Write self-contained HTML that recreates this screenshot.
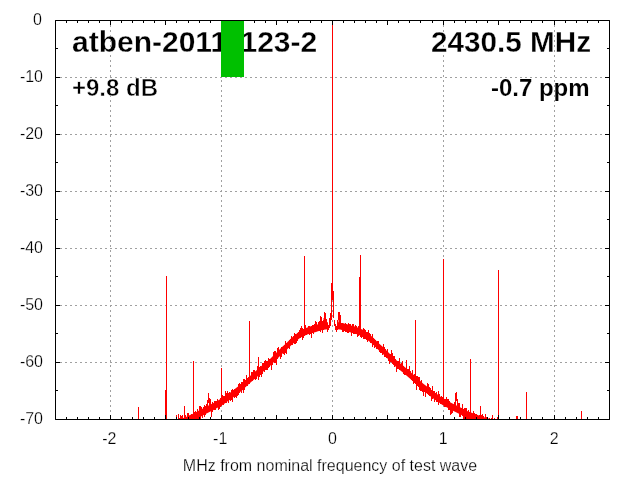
<!DOCTYPE html>
<html><head><meta charset="utf-8">
<style>
html,body{margin:0;padding:0;background:#fff;}
body{width:640px;height:480px;overflow:hidden;position:relative;}
svg{position:absolute;left:0;top:0;will-change:transform;}
text{font-family:"Liberation Sans",sans-serif;}
.lb{stroke:#fff;stroke-width:0.25px;}
</style></head><body>
<svg width="640" height="480" viewBox="0 0 640 480">
<defs><clipPath id="c"><rect x="55" y="20" width="555" height="399.5"/></clipPath></defs>
<rect x="0" y="0" width="640" height="480" fill="#fff"/>
<path d="M55,77.5H609M55,134.5H609M55,191.5H609M55,248.5H609M55,305.5H609M55,362.5H609M110.5,20V419M221.5,20V419M332.5,20V419M443.5,20V419M554.5,20V419" stroke="#a0a0a0" stroke-width="1" stroke-dasharray="2,3" fill="none"/>
<g clip-path="url(#c)"><path d="M170.0,423.5 172.0,422.7 174.0,421.9 176.0,421.1 178.0,420.3 180.0,419.5 182.0,418.6 184.0,417.8 186.0,417.0 188.0,416.1 190.0,415.1 192.0,414.2 194.0,413.2 196.0,412.2 198.0,411.1 200.0,410.0 202.0,408.9 204.0,407.8 206.0,406.8 208.0,405.8 210.0,404.8 212.0,403.8 214.0,402.8 216.0,401.6 218.0,400.5 220.0,399.3 222.0,398.2 224.0,397.0 226.0,395.6 228.0,394.1 230.0,392.7 232.0,391.2 234.0,389.7 236.0,388.1 238.0,386.6 240.0,385.0 242.0,383.4 244.0,381.6 246.0,379.7 248.0,377.8 250.0,375.9 252.0,374.2 254.0,372.5 256.0,370.7 258.0,369.0 260.0,367.3 262.0,365.6 264.0,364.0 266.0,362.3 268.0,360.7 270.0,359.0 272.0,357.0 274.0,355.0 276.0,353.0 278.0,351.0 280.0,349.0 282.0,347.1 284.0,345.2 286.0,343.4 288.0,341.5 290.0,339.5 292.0,337.5 294.0,335.8 296.0,334.2 298.0,332.5 300.0,330.9 302.0,329.8 304.0,329.0 306.0,328.1 308.0,327.2 310.0,326.6 312.0,326.0 314.0,325.4 316.0,324.9 318.0,324.3 319.0,324.0 320.0,323.7 321.0,323.4 322.0,323.1 323.0,322.9 324.0,322.8 325.0,322.6 326.0,322.5 327.0,322.3 328.0,322.2 328.0,329.2 327.0,329.3 326.0,329.5 325.0,329.6 324.0,329.8 323.0,329.9 322.0,330.1 321.0,330.4 320.0,330.7 319.0,331.0 318.0,331.3 316.0,331.9 314.0,332.4 312.0,333.0 310.0,333.6 308.0,334.2 306.0,335.1 304.0,336.0 302.0,336.8 300.0,337.9 298.0,339.5 296.0,341.2 294.0,342.8 292.0,344.5 290.0,346.5 288.0,348.5 286.0,350.4 284.0,352.2 282.0,354.1 280.0,356.0 278.0,358.0 276.0,360.0 274.0,362.0 272.0,364.0 270.0,366.0 268.0,367.7 266.0,369.3 264.0,371.0 262.0,372.6 260.0,374.3 258.0,376.0 256.0,377.7 254.0,379.5 252.0,381.2 250.0,382.9 248.0,384.8 246.0,386.7 244.0,388.6 242.0,390.4 240.0,392.0 238.0,393.6 236.0,395.1 234.0,396.7 232.0,398.2 230.0,399.7 228.0,401.1 226.0,402.6 224.0,404.0 222.0,405.2 220.0,406.3 218.0,407.5 216.0,408.6 214.0,409.8 212.0,410.8 210.0,411.8 208.0,412.8 206.0,413.8 204.0,414.8 202.0,415.9 200.0,417.0 198.0,418.1 196.0,419.2 194.0,420.2 192.0,421.2 190.0,422.1 188.0,423.1 186.0,424.0 184.0,424.8 182.0,425.6 180.0,426.5 178.0,427.3 176.0,428.1 174.0,428.9 172.0,429.7 170.0,430.5ZM337.0,322.2 338.0,322.3 339.0,322.5 340.0,322.6 341.0,322.8 342.0,322.9 343.0,323.1 344.0,323.4 345.0,323.7 346.0,324.0 347.0,324.3 348.0,324.6 349.0,324.9 351.0,325.4 353.0,326.0 355.0,326.6 357.0,327.2 359.0,328.1 361.0,329.0 363.0,329.8 365.0,330.9 367.0,332.5 369.0,334.2 371.0,335.8 373.0,337.5 375.0,339.5 377.0,341.5 379.0,343.4 381.0,345.2 383.0,347.1 385.0,349.0 387.0,351.0 389.0,353.0 391.0,355.0 393.0,357.0 395.0,359.0 397.0,360.7 399.0,362.3 401.0,364.0 403.0,365.6 405.0,367.3 407.0,369.0 409.0,370.7 411.0,372.5 413.0,374.2 415.0,375.9 417.0,377.8 419.0,379.7 421.0,381.6 423.0,383.4 425.0,385.0 427.0,386.6 429.0,388.1 431.0,389.7 433.0,391.2 435.0,392.7 437.0,394.1 439.0,395.6 441.0,397.0 443.0,398.2 445.0,399.3 447.0,400.5 449.0,401.6 451.0,402.8 453.0,403.8 455.0,404.8 457.0,405.8 459.0,406.8 461.0,407.8 463.0,408.8 465.0,409.9 467.0,411.0 469.0,411.8 471.0,412.6 473.0,413.3 475.0,414.1 477.0,414.8 479.0,415.4 481.0,416.0 483.0,416.7 485.0,417.4 487.0,418.1 489.0,418.8 491.0,419.6 493.0,420.5 495.0,421.3 495.0,428.3 493.0,427.5 491.0,426.6 489.0,425.8 487.0,425.1 485.0,424.4 483.0,423.7 481.0,423.0 479.0,422.4 477.0,421.8 475.0,421.1 473.0,420.3 471.0,419.6 469.0,418.8 467.0,418.0 465.0,416.9 463.0,415.8 461.0,414.8 459.0,413.8 457.0,412.8 455.0,411.8 453.0,410.8 451.0,409.8 449.0,408.6 447.0,407.5 445.0,406.3 443.0,405.2 441.0,404.0 439.0,402.6 437.0,401.1 435.0,399.7 433.0,398.2 431.0,396.7 429.0,395.1 427.0,393.6 425.0,392.0 423.0,390.4 421.0,388.6 419.0,386.7 417.0,384.8 415.0,382.9 413.0,381.2 411.0,379.5 409.0,377.7 407.0,376.0 405.0,374.3 403.0,372.6 401.0,371.0 399.0,369.3 397.0,367.7 395.0,366.0 393.0,364.0 391.0,362.0 389.0,360.0 387.0,358.0 385.0,356.0 383.0,354.1 381.0,352.2 379.0,350.4 377.0,348.5 375.0,346.5 373.0,344.5 371.0,342.8 369.0,341.2 367.0,339.5 365.0,337.9 363.0,336.8 361.0,336.0 359.0,335.1 357.0,334.2 355.0,333.6 353.0,333.0 351.0,332.4 349.0,331.9 348.0,331.6 347.0,331.3 346.0,331.0 345.0,330.7 344.0,330.4 343.0,330.1 342.0,329.9 341.0,329.8 340.0,329.6 339.0,329.5 338.0,329.3 337.0,329.2ZM323.5,318H326V329H323.5ZM338.5,318H341V329H338.5Z" fill="#ff0000" stroke="none"/>
<path d="M55.00,446.1 55.12,448.4 55.25,446.1 55.38,445.9 55.50,444.0 55.62,446.1 55.75,450.1 55.88,448.0 56.00,449.8 56.12,447.4 56.25,447.9 56.38,447.2 56.50,441.6 56.62,449.2 56.75,448.1 56.88,448.1 57.00,441.5 57.12,441.3 57.25,443.9 57.38,445.1 57.50,447.4 57.62,446.3 57.75,448.0 57.88,444.5 58.00,447.4 58.12,447.6 58.25,444.4 58.38,451.5 58.50,448.0 58.62,449.9 58.75,444.5 58.88,444.1 59.00,445.3 59.12,446.0 59.25,448.2 59.38,447.0 59.50,444.9 59.62,443.3 59.75,444.6 59.88,449.8 60.00,443.7 60.12,446.9 60.25,447.4 60.38,441.6 60.50,446.2 60.62,450.0 60.75,440.0 60.88,445.1 61.00,445.7 61.12,443.5 61.25,447.5 61.38,445.8 61.50,441.5 61.62,448.4 61.75,447.9 61.88,448.7 62.00,450.2 62.12,446.9 62.25,446.2 62.38,441.9 62.50,447.6 62.62,443.9 62.75,444.4 62.88,442.0 63.00,442.8 63.12,444.1 63.25,449.6 63.38,439.6 63.50,441.3 63.62,446.4 63.75,450.0 63.88,447.3 64.00,439.9 64.12,438.0 64.25,446.6 64.38,443.3 64.50,442.2 64.62,448.4 64.75,448.8 64.88,445.9 65.00,446.2 65.12,446.7 65.25,450.2 65.38,447.3 65.50,446.9 65.62,447.0 65.75,440.6 65.88,449.2 66.00,448.2 66.12,446.9 66.25,439.4 66.38,443.4 66.50,447.8 66.62,439.8 66.75,444.7 66.88,448.2 67.00,441.2 67.12,450.0 67.25,446.8 67.38,444.7 67.50,446.1 67.62,447.0 67.75,445.4 67.88,448.5 68.00,443.0 68.12,443.8 68.25,448.1 68.38,445.1 68.50,442.3 68.62,447.8 68.75,449.3 68.88,443.6 69.00,440.8 69.12,444.5 69.25,444.4 69.38,443.9 69.50,449.0 69.62,441.7 69.75,448.6 69.88,441.0 70.00,442.4 70.12,446.6 70.25,448.1 70.38,447.3 70.50,445.7 70.62,445.1 70.75,445.1 70.88,446.4 71.00,444.1 71.12,445.4 71.25,446.3 71.38,444.6 71.50,446.8 71.62,446.2 71.75,450.5 71.88,445.5 72.00,443.2 72.12,443.3 72.25,444.4 72.38,447.2 72.50,443.4 72.62,445.5 72.75,449.9 72.88,436.7 73.00,441.0 73.12,445.0 73.25,445.5 73.38,445.0 73.50,443.0 73.62,446.2 73.75,445.1 73.88,442.6 74.00,451.5 74.12,445.2 74.25,442.5 74.38,443.8 74.50,443.4 74.62,443.9 74.75,435.9 74.88,442.6 75.00,447.1 75.12,440.5 75.25,443.8 75.38,446.9 75.50,446.5 75.62,448.4 75.75,438.8 75.88,442.9 76.00,442.9 76.12,445.8 76.25,447.2 76.38,435.8 76.50,447.1 76.62,439.5 76.75,445.9 76.88,439.3 77.00,444.3 77.12,447.3 77.25,443.3 77.38,444.3 77.50,446.1 77.62,444.1 77.75,443.4 77.88,448.2 78.00,446.8 78.12,442.7 78.25,451.8 78.38,440.1 78.50,446.3 78.62,442.7 78.75,443.9 78.88,445.6 79.00,444.2 79.12,445.4 79.25,438.9 79.38,438.9 79.50,445.3 79.62,440.5 79.75,440.3 79.88,439.0 80.00,447.1 80.12,445.6 80.25,447.7 80.38,440.5 80.50,443.3 80.62,439.8 80.75,445.5 80.88,448.0 81.00,440.5 81.12,447.9 81.25,446.1 81.38,442.6 81.50,437.2 81.62,447.3 81.75,442.8 81.88,441.3 82.00,444.3 82.12,444.3 82.25,447.5 82.38,440.0 82.50,446.4 82.62,447.4 82.75,447.3 82.88,442.4 83.00,440.7 83.12,446.0 83.25,443.2 83.38,443.3 83.50,447.1 83.62,442.1 83.75,435.9 83.88,441.6 84.00,437.2 84.12,445.2 84.25,443.7 84.38,440.9 84.50,442.7 84.62,445.2 84.75,442.9 84.88,446.6 85.00,442.5 85.12,445.8 85.25,447.1 85.38,447.4 85.50,440.6 85.62,445.2 85.75,436.9 85.88,439.3 86.00,436.6 86.12,445.7 86.25,438.8 86.38,442.4 86.50,441.9 86.62,442.3 86.75,440.6 86.88,443.1 87.00,447.7 87.12,442.5 87.25,443.9 87.38,445.3 87.50,441.7 87.62,438.5 87.75,440.6 87.88,445.5 88.00,437.3 88.12,440.4 88.25,445.2 88.38,444.6 88.50,442.2 88.62,444.6 88.75,442.6 88.88,438.6 89.00,437.4 89.12,440.2 89.25,444.8 89.38,440.3 89.50,439.3 89.62,439.7 89.75,437.4 89.88,441.6 90.00,438.4 90.12,443.0 90.25,434.8 90.38,442.9 90.50,440.0 90.62,436.0 90.75,444.0 90.88,441.0 91.00,435.1 91.12,439.2 91.25,442.6 91.38,440.4 91.50,444.1 91.62,444.0 91.75,443.7 91.88,442.7 92.00,445.7 92.12,443.6 92.25,443.0 92.38,435.4 92.50,444.3 92.62,445.5 92.75,440.7 92.88,440.1 93.00,447.4 93.12,436.2 93.25,442.9 93.38,448.7 93.50,438.7 93.62,443.5 93.75,447.1 93.88,441.0 94.00,443.1 94.12,444.1 94.25,438.6 94.38,441.1 94.50,442.2 94.62,443.8 94.75,441.2 94.88,440.7 95.00,438.2 95.12,440.2 95.25,443.9 95.38,441.5 95.50,438.6 95.62,438.6 95.75,449.1 95.88,444.5 96.00,443.0 96.12,433.3 96.25,442.9 96.38,442.5 96.50,446.1 96.62,442.3 96.75,440.8 96.88,442.6 97.00,435.1 97.12,444.1 97.25,441.9 97.38,438.8 97.50,444.9 97.62,446.3 97.75,436.7 97.88,438.8 98.00,441.7 98.12,441.4 98.25,439.6 98.38,437.9 98.50,447.1 98.62,443.9 98.75,437.1 98.88,436.7 99.00,445.8 99.12,443.6 99.25,446.1 99.38,443.1 99.50,438.0 99.62,441.4 99.75,434.1 99.88,438.3 100.00,440.4 100.12,442.1 100.25,438.3 100.38,440.1 100.50,441.9 100.62,441.6 100.75,442.4 100.88,441.1 101.00,439.4 101.12,442.8 101.25,440.5 101.38,437.9 101.50,438.5 101.62,440.3 101.75,440.0 101.88,440.8 102.00,440.3 102.12,440.8 102.25,439.8 102.38,436.4 102.50,441.5 102.62,443.3 102.75,441.5 102.88,439.6 103.00,441.5 103.12,437.2 103.25,434.4 103.38,440.3 103.50,437.3 103.62,442.3 103.75,436.8 103.88,432.1 104.00,436.9 104.12,444.7 104.25,438.8 104.38,435.8 104.50,437.6 104.62,441.5 104.75,441.4 104.88,440.4 105.00,444.3 105.12,442.0 105.25,439.8 105.38,441.6 105.50,444.7 105.62,442.7 105.75,442.8 105.88,436.5 106.00,439.3 106.12,441.9 106.25,438.8 106.38,442.9 106.50,441.4 106.62,442.3 106.75,439.0 106.88,447.2 107.00,443.3 107.12,438.9 107.25,439.8 107.38,447.3 107.50,438.5 107.62,442.1 107.75,442.4 107.88,439.5 108.00,435.9 108.12,440.0 108.25,440.5 108.38,442.8 108.50,441.7 108.62,439.4 108.75,441.9 108.88,440.9 109.00,439.9 109.12,439.4 109.25,438.5 109.38,441.3 109.50,436.1 109.62,437.3 109.75,439.2 109.88,434.8 110.00,437.8 110.12,433.1 110.25,437.1 110.38,440.8 110.50,440.8 110.62,438.9 110.75,438.3 110.88,434.8 111.00,444.5 111.12,440.5 111.25,442.3 111.38,436.3 111.50,438.4 111.62,433.5 111.75,441.2 111.88,441.7 112.00,433.2 112.12,438.7 112.25,440.7 112.38,433.5 112.50,433.3 112.62,435.6 112.75,436.9 112.88,434.5 113.00,438.8 113.12,439.5 113.25,440.6 113.38,440.8 113.50,443.2 113.62,442.1 113.75,434.7 113.88,437.1 114.00,435.4 114.12,435.3 114.25,438.3 114.38,438.6 114.50,440.0 114.62,433.7 114.75,434.8 114.88,438.4 115.00,437.9 115.12,437.5 115.25,438.2 115.38,436.1 115.50,440.5 115.62,439.4 115.75,438.1 115.88,436.3 116.00,437.8 116.12,430.1 116.25,435.3 116.38,438.4 116.50,433.7 116.62,438.8 116.75,438.6 116.88,434.1 117.00,437.4 117.12,437.2 117.25,439.5 117.38,440.0 117.50,438.0 117.62,435.5 117.75,437.6 117.88,437.9 118.00,440.2 118.12,438.9 118.25,435.8 118.38,433.9 118.50,436.8 118.62,435.7 118.75,434.6 118.88,437.6 119.00,436.4 119.12,438.2 119.25,439.4 119.38,436.6 119.50,444.8 119.62,436.8 119.75,441.1 119.88,438.1 120.00,441.1 120.12,430.6 120.25,435.5 120.38,438.4 120.50,439.5 120.62,444.7 120.75,438.6 120.88,441.5 121.00,439.9 121.12,440.4 121.25,439.1 121.38,437.1 121.50,439.1 121.62,434.3 121.75,441.0 121.88,434.4 122.00,438.2 122.12,443.8 122.25,436.8 122.38,437.5 122.50,440.9 122.62,437.5 122.75,434.9 122.88,438.1 123.00,439.1 123.12,439.4 123.25,435.0 123.38,442.5 123.50,442.3 123.62,437.3 123.75,438.0 123.88,435.9 124.00,441.4 124.12,435.1 124.25,439.2 124.38,435.7 124.50,435.0 124.62,439.3 124.75,441.1 124.88,437.0 125.00,435.0 125.12,439.5 125.25,436.9 125.38,437.9 125.50,441.5 125.62,440.4 125.75,435.4 125.88,443.8 126.00,436.9 126.12,439.3 126.25,434.9 126.38,436.7 126.50,431.6 126.62,442.2 126.75,440.9 126.88,433.1 127.00,432.3 127.12,431.9 127.25,440.3 127.38,435.3 127.50,436.5 127.62,435.7 127.75,436.3 127.88,433.4 128.00,436.7 128.12,432.3 128.25,436.4 128.38,437.5 128.50,438.0 128.62,435.8 128.75,433.8 128.88,437.0 129.00,435.0 129.12,441.2 129.25,438.8 129.38,436.1 129.50,435.0 129.62,434.3 129.75,433.6 129.88,435.3 130.00,437.2 130.12,437.9 130.25,438.0 130.38,442.6 130.50,434.2 130.62,436.3 130.75,444.6 130.88,430.6 131.00,434.6 131.12,436.7 131.25,436.6 131.38,437.4 131.50,435.4 131.62,437.2 131.75,436.3 131.88,438.4 132.00,430.4 132.12,433.4 132.25,436.0 132.38,432.9 132.50,432.9 132.62,437.9 132.75,434.0 132.88,437.8 133.00,438.1 133.12,436.8 133.25,437.4 133.38,435.5 133.50,431.6 133.62,435.7 133.75,437.1 133.88,434.1 134.00,435.4 134.12,437.9 134.25,433.0 134.38,437.5 134.50,441.2 134.62,433.9 134.75,436.0 134.88,435.1 135.00,440.1 135.12,436.4 135.25,438.1 135.38,433.4 135.50,435.4 135.62,435.3 135.75,430.0 135.88,439.6 136.00,438.0 136.12,430.0 136.25,437.5 136.38,434.8 136.50,436.5 136.62,436.3 136.75,430.7 136.88,434.5 137.00,439.6 137.12,433.4 137.25,432.0 137.38,430.9 137.50,431.3 137.62,436.0 137.75,440.0 137.88,436.2 138.00,435.6 138.12,441.6 138.25,433.3 138.38,432.8 138.50,436.4 138.62,436.4 138.75,431.7 138.88,431.2 139.00,435.6 139.12,435.4 139.25,430.7 139.38,434.0 139.50,433.0 139.62,436.0 139.75,434.2 139.88,434.3 140.00,433.4 140.12,437.6 140.25,438.6 140.38,433.3 140.50,436.9 140.62,432.1 140.75,434.6 140.88,436.6 141.00,438.8 141.12,433.1 141.25,434.0 141.38,434.8 141.50,429.7 141.62,434.2 141.75,432.1 141.88,435.2 142.00,430.7 142.12,428.1 142.25,434.2 142.38,434.8 142.50,432.4 142.62,436.6 142.75,433.1 142.88,432.1 143.00,435.3 143.12,429.2 143.25,431.8 143.38,433.8 143.50,436.3 143.62,433.3 143.75,434.7 143.88,431.8 144.00,434.6 144.12,438.7 144.25,431.6 144.38,440.7 144.50,431.7 144.62,433.6 144.75,434.1 144.88,436.6 145.00,429.8 145.12,427.2 145.25,435.3 145.38,435.8 145.50,435.3 145.62,441.3 145.75,434.0 145.88,434.1 146.00,436.1 146.12,434.4 146.25,438.2 146.38,429.5 146.50,432.1 146.62,422.8 146.75,435.6 146.88,432.0 147.00,435.9 147.12,439.5 147.25,433.0 147.38,432.3 147.50,431.5 147.62,430.5 147.75,431.1 147.88,434.8 148.00,433.0 148.12,433.1 148.25,432.3 148.38,435.6 148.50,434.3 148.62,432.3 148.75,434.7 148.88,432.3 149.00,429.2 149.12,437.0 149.25,434.0 149.38,429.8 149.50,435.8 149.62,433.6 149.75,427.9 149.88,437.4 150.00,433.5 150.12,435.1 150.25,433.0 150.38,432.0 150.50,427.8 150.62,435.3 150.75,432.4 150.88,431.5 151.00,433.4 151.12,432.5 151.25,434.3 151.38,431.1 151.50,432.1 151.62,425.8 151.75,430.9 151.88,434.2 152.00,436.1 152.12,431.0 152.25,431.7 152.38,436.8 152.50,431.0 152.62,434.2 152.75,437.0 152.88,432.0 153.00,435.6 153.12,429.7 153.25,432.5 153.38,431.6 153.50,432.1 153.62,435.2 153.75,438.9 153.88,429.7 154.00,430.0 154.12,433.2 154.25,428.5 154.38,433.1 154.50,433.3 154.62,430.7 154.75,433.1 154.88,426.9 155.00,433.8 155.12,426.8 155.25,429.4 155.38,429.8 155.50,430.2 155.62,434.0 155.75,431.6 155.88,430.1 156.00,432.9 156.12,436.0 156.25,431.3 156.38,432.3 156.50,434.9 156.62,432.0 156.75,427.3 156.88,438.6 157.00,437.7 157.12,425.1 157.25,430.9 157.38,432.3 157.50,433.9 157.62,433.0 157.75,430.1 157.88,427.8 158.00,431.2 158.12,434.0 158.25,427.6 158.38,427.7 158.50,430.7 158.62,425.0 158.75,430.0 158.88,429.4 159.00,432.1 159.12,428.6 159.25,428.0 159.38,429.4 159.50,430.5 159.62,428.6 159.75,430.6 159.88,432.8 160.00,434.1 160.12,435.6 160.25,428.1 160.38,429.2 160.50,423.0 160.62,436.1 160.75,428.2 160.88,430.2 161.00,431.9 161.12,426.2 161.25,431.6 161.38,430.1 161.50,424.7 161.62,431.1 161.75,433.7 161.88,424.5 162.00,432.5 162.12,430.7 162.25,431.5 162.38,431.3 162.50,433.9 162.62,429.3 162.75,432.5 162.88,428.6 163.00,432.0 163.12,427.3 163.25,429.4 163.38,434.8 163.50,430.9 163.62,429.1 163.75,426.1 163.88,427.1 164.00,430.0 164.12,432.2 164.25,430.6 164.38,430.8 164.50,429.1 164.62,433.2 164.75,427.9 164.88,427.4 165.00,431.7 165.12,429.1 165.25,428.1 165.38,427.1 165.50,428.0 165.62,430.6 165.75,429.8 165.88,425.0 166.00,429.9 166.12,429.1 166.25,425.5 166.38,430.8 166.50,427.6 166.62,427.3 166.75,430.7 166.88,432.2 167.00,426.1 167.12,429.5 167.25,425.5 167.38,435.0 167.50,426.5 167.62,431.5 167.75,426.0 167.88,430.3 168.00,434.5 168.12,420.1 168.25,426.4 168.38,429.2 168.50,427.3 168.62,425.5 168.75,434.0 168.88,427.7 169.00,422.5 169.12,429.9 169.25,422.1 169.38,430.7 169.50,425.5 169.62,427.6 169.75,430.9 169.88,427.4 170.00,422.8 170.12,421.9 170.25,430.4 170.38,429.1 170.50,424.4 170.62,429.3 170.75,428.2 170.88,428.6 171.00,419.8 171.12,425.6 171.25,429.2 171.38,428.7 171.50,429.0 171.62,419.0 171.75,426.8 171.88,427.7 172.00,433.9 172.12,423.3 172.25,425.1 172.38,426.2 172.50,428.7 172.62,424.6 172.75,429.3 172.88,423.5 173.00,426.6 173.12,424.2 173.25,426.2 173.38,423.6 173.50,420.8 173.62,428.8 173.75,426.4 173.88,423.8 174.00,426.0 174.12,428.3 174.25,422.4 174.38,424.9 174.50,426.8 174.62,426.7 174.75,424.1 174.88,418.7 175.00,428.7 175.12,425.9 175.25,424.9 175.38,424.0 175.50,425.6 175.62,423.5 175.75,421.6 175.88,422.4 176.00,422.8 176.12,422.7 176.25,421.0 176.38,426.4 176.50,420.5 176.62,426.3 176.75,421.3 176.88,425.3 177.00,428.3 177.12,424.8 177.25,421.9 177.38,424.2 177.50,424.4 177.62,418.7 177.75,422.1 177.88,424.3 178.00,422.4 178.12,424.0 178.25,425.9 178.38,425.9 178.50,426.3 178.62,425.3 178.75,422.6 178.88,423.4 179.00,422.6 179.12,422.4 179.25,422.7 179.38,418.1 179.50,422.2 179.62,423.1 179.75,420.2 179.88,423.0 180.00,424.5 180.12,422.4 180.25,429.1 180.38,415.0 180.50,422.1 180.62,417.2 180.75,425.6 180.88,430.6 181.00,415.1 181.12,422.9 181.25,424.0 181.38,421.5 181.50,424.0 181.62,415.6 181.75,424.8 181.88,423.3 182.00,422.2 182.12,420.3 182.25,424.0 182.38,420.5 182.50,422.6 182.62,420.4 182.75,415.1 182.88,421.7 183.00,422.3 183.12,423.9 183.25,419.0 183.38,421.5 183.50,423.4 183.62,421.9 183.75,425.2 183.88,427.3 184.00,418.6 184.12,415.5 184.25,423.8 184.38,425.8 184.50,423.9 184.62,423.5 184.75,419.2 184.88,418.8 185.00,423.6 185.12,418.1 185.25,415.4 185.38,417.8 185.50,428.2 185.62,426.4 185.75,418.5 185.88,418.4 186.00,421.2 186.12,418.2 186.25,424.3 186.38,420.1 186.50,417.0 186.62,424.1 186.75,418.4 186.88,420.7 187.00,420.0 187.12,419.0 187.25,420.9 187.38,417.8 187.50,414.3 187.62,413.1 187.75,415.9 187.88,417.3 188.00,419.5 188.12,419.7 188.25,421.1 188.38,419.7 188.50,416.9 188.62,417.1 188.75,412.8 188.88,418.6 189.00,420.5 189.12,420.6 189.25,418.6 189.38,418.4 189.50,421.7 189.62,418.8 189.75,420.9 189.88,420.4 190.00,419.2 190.12,422.5 190.25,416.8 190.38,417.4 190.50,415.9 190.62,415.9 190.75,422.9 190.88,423.5 191.00,418.2 191.12,419.8 191.25,421.5 191.38,420.4 191.50,421.5 191.62,414.0 191.75,415.9 191.88,419.1 192.00,422.0 192.12,417.9 192.25,415.0 192.38,416.4 192.50,415.4 192.62,414.8 192.75,421.8 192.88,415.4 193.00,417.2 193.12,423.6 193.25,420.6 193.38,418.0 193.50,415.1 193.62,418.1 193.75,421.7 193.88,418.6 194.00,420.5 194.12,416.9 194.25,418.1 194.38,415.9 194.50,417.8 194.62,420.3 194.75,412.1 194.88,416.1 195.00,417.0 195.12,414.5 195.25,415.2 195.38,418.4 195.50,422.0 195.62,417.8 195.75,416.8 195.88,411.1 196.00,421.5 196.12,415.9 196.25,415.5 196.38,412.2 196.50,415.3 196.62,412.1 196.75,415.5 196.88,416.6 197.00,415.3 197.12,415.9 197.25,412.5 197.38,419.3 197.50,412.9 197.62,409.4 197.75,414.2 197.88,412.4 198.00,411.6 198.12,413.5 198.25,415.4 198.38,410.9 198.50,413.9 198.62,418.6 198.75,416.3 198.88,413.7 199.00,414.5 199.12,413.7 199.25,413.8 199.38,416.1 199.50,413.5 199.62,406.5 199.75,413.6 199.88,410.9 200.00,415.5 200.12,411.6 200.25,413.8 200.38,419.9 200.50,410.1 200.62,409.8 200.75,408.9 200.88,405.9 201.00,407.4 201.12,414.0 201.25,410.9 201.38,407.2 201.50,408.3 201.62,414.5 201.75,410.3 201.88,411.4 202.00,413.4 202.12,416.4 202.25,418.1 202.38,415.3 202.50,412.6 202.62,412.7 202.75,417.4 202.88,416.2 203.00,411.0 203.12,413.2 203.25,412.6 203.38,411.8 203.50,410.1 203.62,407.6 203.75,409.9 203.88,406.8 204.00,415.0 204.12,412.9 204.25,407.6 204.38,415.3 204.50,413.7 204.62,405.3 204.75,416.5 204.88,413.3 205.00,417.0 205.12,407.0 205.25,412.3 205.38,411.9 205.50,411.2 205.62,411.0 205.75,413.6 205.88,405.9 206.00,406.6 206.12,406.0 206.25,408.5 206.38,407.9 206.50,410.1 206.62,409.0 206.75,407.6 206.88,404.7 207.00,404.6 207.12,408.1 207.25,406.8 207.38,404.0 207.50,402.0 207.62,406.9 207.75,399.7 207.88,402.7 208.00,403.5 208.12,398.5 208.25,401.0 208.38,394.4 208.50,400.1 208.62,398.2 208.75,393.5 208.88,400.9 209.00,396.8 209.12,404.0 209.25,398.7 209.38,400.9 209.50,402.8 209.62,401.6 209.75,404.0 209.88,402.2 210.00,406.5 210.12,405.3 210.25,406.7 210.38,398.6 210.50,411.1 210.62,408.5 210.75,403.5 210.88,409.3 211.00,410.5 211.12,412.4 211.25,406.1 211.38,414.1 211.50,409.0 211.62,416.5 211.75,408.6 211.88,410.9 212.00,407.5 212.12,405.0 212.25,411.4 212.38,410.6 212.50,412.3 212.62,410.0 212.75,405.5 212.88,402.0 213.00,404.8 213.12,404.7 213.25,404.2 213.38,408.3 213.50,407.5 213.62,405.6 213.75,406.9 213.88,405.9 214.00,406.9 214.12,408.4 214.25,409.0 214.38,404.0 214.50,401.5 214.62,410.2 214.75,406.2 214.88,409.1 215.00,400.8 215.12,404.6 215.25,405.6 215.38,401.2 215.50,403.9 215.62,407.5 215.75,408.5 215.88,410.0 216.00,402.5 216.12,400.9 216.25,406.5 216.38,407.7 216.50,405.4 216.62,400.9 216.75,407.0 216.88,407.0 217.00,406.2 217.12,403.0 217.25,405.3 217.38,406.7 217.50,402.6 217.62,398.7 217.75,405.1 217.88,405.5 218.00,404.0 218.12,406.6 218.25,402.1 218.38,403.5 218.50,402.8 218.62,405.3 218.75,408.3 218.88,402.7 219.00,409.6 219.12,407.9 219.25,405.6 219.38,404.9 219.50,408.4 219.62,402.5 219.75,402.6 219.88,399.7 220.00,404.2 220.12,406.8 220.25,404.3 220.38,403.9 220.50,401.9 220.62,403.0 220.75,398.1 220.88,405.5 221.00,401.0 221.12,398.9 221.25,399.8 221.38,399.5 221.50,404.5 221.62,405.0 221.75,397.7 221.88,404.5 222.00,404.3 222.12,399.8 222.25,397.1 222.38,399.2 222.50,399.5 222.62,402.3 222.75,400.2 222.88,395.1 223.00,401.8 223.12,396.4 223.25,403.7 223.38,397.2 223.50,398.7 223.62,398.2 223.75,399.0 223.88,404.5 224.00,403.1 224.12,402.2 224.25,401.3 224.38,395.6 224.50,398.6 224.62,398.4 224.75,397.0 224.88,401.4 225.00,397.6 225.12,397.6 225.25,396.5 225.38,393.3 225.50,401.2 225.62,403.3 225.75,399.8 225.88,396.2 226.00,390.9 226.12,399.5 226.25,402.5 226.38,399.7 226.50,401.5 226.62,403.0 226.75,401.9 226.88,397.1 227.00,401.5 227.12,400.6 227.25,393.5 227.38,396.8 227.50,393.7 227.62,397.6 227.75,399.5 227.88,394.5 228.00,391.4 228.12,401.4 228.25,398.6 228.38,401.8 228.50,393.3 228.62,400.3 228.75,403.3 228.88,403.0 229.00,396.3 229.12,397.6 229.25,396.2 229.38,399.6 229.50,399.6 229.62,396.7 229.75,392.3 229.88,398.5 230.00,394.8 230.12,398.0 230.25,396.8 230.38,400.8 230.50,399.2 230.62,394.4 230.75,396.7 230.88,400.8 231.00,393.8 231.12,396.7 231.25,398.8 231.38,398.9 231.50,396.6 231.62,391.0 231.75,391.1 231.88,395.6 232.00,395.9 232.12,402.3 232.25,392.0 232.38,397.9 232.50,396.7 232.62,389.3 232.75,391.7 232.88,394.6 233.00,392.5 233.12,393.4 233.25,395.2 233.38,391.3 233.50,395.0 233.62,391.6 233.75,391.8 233.88,394.9 234.00,391.5 234.12,394.0 234.25,397.8 234.38,393.0 234.50,392.4 234.62,394.9 234.75,391.5 234.88,395.8 235.00,388.6 235.12,394.2 235.25,390.7 235.38,389.7 235.50,397.3 235.62,389.4 235.75,397.1 235.88,393.7 236.00,396.0 236.12,388.6 236.25,395.0 236.38,395.7 236.50,390.9 236.62,390.8 236.75,398.4 236.88,391.5 237.00,389.6 237.12,388.9 237.25,392.0 237.38,391.5 237.50,391.0 237.62,395.5 237.75,389.3 237.88,391.6 238.00,394.4 238.12,386.9 238.25,393.0 238.38,395.3 238.50,385.6 238.62,386.3 238.75,386.3 238.88,383.8 239.00,390.6 239.12,383.6 239.25,390.6 239.38,393.3 239.50,384.0 239.62,387.8 239.75,382.9 239.88,390.9 240.00,386.3 240.12,387.6 240.25,388.4 240.38,389.8 240.50,387.0 240.62,388.0 240.75,386.2 240.88,388.1 241.00,384.2 241.12,387.8 241.25,381.7 241.38,385.9 241.50,393.0 241.62,387.4 241.75,383.3 241.88,387.8 242.00,384.0 242.12,381.8 242.25,384.5 242.38,388.8 242.50,387.7 242.62,386.1 242.75,383.5 242.88,382.9 243.00,390.1 243.12,386.6 243.25,382.9 243.38,379.3 243.50,381.4 243.62,392.9 243.75,381.9 243.88,385.0 244.00,385.7 244.12,384.5 244.25,384.0 244.38,380.6 244.50,381.5 244.62,389.6 244.75,382.1 244.88,386.8 245.00,379.1 245.12,383.2 245.25,384.7 245.38,386.9 245.50,380.3 245.62,385.3 245.75,384.6 245.88,381.1 246.00,384.6 246.12,380.4 246.25,380.6 246.38,382.8 246.50,374.6 246.62,382.3 246.75,379.5 246.88,378.0 247.00,381.0 247.12,384.4 247.25,380.8 247.38,385.7 247.50,378.3 247.62,377.7 247.75,386.2 247.88,382.6 248.00,384.1 248.12,378.7 248.25,383.5 248.38,381.7 248.50,382.8 248.62,380.8 248.75,384.2 248.88,378.5 249.00,377.5 249.12,375.8 249.25,383.6 249.38,377.8 249.50,376.7 249.62,376.9 249.75,378.3 249.88,375.7 250.00,378.5 250.12,377.4 250.25,377.5 250.38,376.2 250.50,379.1 250.62,377.5 250.75,379.1 250.88,379.4 251.00,379.6 251.12,371.9 251.25,376.7 251.38,375.8 251.50,380.4 251.62,373.3 251.75,375.8 251.88,376.9 252.00,376.7 252.12,380.5 252.25,376.1 252.38,380.3 252.50,372.9 252.62,371.7 252.75,380.7 252.88,378.2 253.00,378.3 253.12,377.1 253.25,378.1 253.38,372.8 253.50,379.2 253.62,374.7 253.75,379.1 253.88,376.3 254.00,370.0 254.12,372.0 254.25,379.1 254.38,375.2 254.50,374.3 254.62,376.2 254.75,374.0 254.88,373.6 255.00,375.4 255.12,375.4 255.25,379.4 255.38,374.9 255.50,380.3 255.62,380.0 255.75,379.6 255.88,377.5 256.00,374.6 256.12,374.5 256.25,373.6 256.38,371.7 256.50,373.6 256.62,371.8 256.75,378.5 256.88,375.1 257.00,372.0 257.12,367.5 257.25,373.0 257.38,371.8 257.50,369.7 257.62,369.4 257.75,366.0 257.88,374.3 258.00,372.3 258.12,380.2 258.25,372.2 258.38,371.8 258.50,376.4 258.62,372.4 258.75,372.4 258.88,370.7 259.00,369.8 259.12,376.1 259.25,374.4 259.38,376.5 259.50,370.2 259.62,371.2 259.75,368.4 259.88,373.8 260.00,366.6 260.12,372.4 260.25,373.9 260.38,374.7 260.50,367.6 260.62,373.6 260.75,368.0 260.88,367.8 261.00,366.0 261.12,373.3 261.25,374.7 261.38,367.9 261.50,367.3 261.62,368.4 261.75,376.9 261.88,372.3 262.00,367.5 262.12,363.7 262.25,366.9 262.38,372.4 262.50,374.3 262.62,367.8 262.75,366.4 262.88,366.9 263.00,362.7 263.12,370.9 263.25,364.8 263.38,371.2 263.50,362.8 263.62,364.0 263.75,368.6 263.88,365.3 264.00,369.8 264.12,367.4 264.25,363.7 264.38,369.0 264.50,369.6 264.62,361.2 264.75,372.3 264.88,368.2 265.00,368.9 265.12,361.0 265.25,364.3 265.38,365.3 265.50,369.5 265.62,361.8 265.75,363.4 265.88,359.8 266.00,365.1 266.12,366.8 266.25,360.6 266.38,363.7 266.50,366.9 266.62,370.1 266.75,367.2 266.88,364.2 267.00,361.5 267.12,362.1 267.25,362.8 267.38,365.1 267.50,364.4 267.62,369.5 267.75,365.2 267.88,361.0 268.00,368.8 268.12,366.9 268.25,364.3 268.38,361.7 268.50,358.1 268.62,360.6 268.75,366.3 268.88,361.0 269.00,359.4 269.12,363.8 269.25,363.9 269.38,364.8 269.50,364.9 269.62,367.0 269.75,360.2 269.88,365.5 270.00,359.5 270.12,364.5 270.25,362.8 270.38,362.9 270.50,364.9 270.62,361.8 270.75,365.1 270.88,364.3 271.00,361.9 271.12,359.7 271.25,359.0 271.38,359.5 271.50,360.4 271.62,360.8 271.75,369.7 271.88,362.5 272.00,362.8 272.12,357.8 272.25,358.1 272.38,359.2 272.50,360.6 272.62,356.8 272.75,364.6 272.88,357.9 273.00,362.7 273.12,352.4 273.25,359.2 273.38,360.0 273.50,359.6 273.62,360.7 273.75,359.6 273.88,359.1 274.00,352.8 274.12,356.2 274.25,351.2 274.38,360.0 274.50,358.9 274.62,357.3 274.75,355.3 274.88,355.9 275.00,363.0 275.12,362.6 275.25,357.1 275.38,361.0 275.50,352.2 275.62,351.1 275.75,355.3 275.88,354.0 276.00,354.8 276.12,356.9 276.25,365.3 276.38,354.1 276.50,356.1 276.62,356.7 276.75,355.6 276.88,358.4 277.00,360.8 277.12,351.6 277.25,355.7 277.38,354.3 277.50,356.1 277.62,350.3 277.75,349.5 277.88,347.7 278.00,356.1 278.12,355.0 278.25,354.5 278.38,347.0 278.50,352.9 278.62,351.6 278.75,349.5 278.88,350.9 279.00,355.6 279.12,355.0 279.25,353.2 279.38,354.7 279.50,351.2 279.62,353.1 279.75,352.9 279.88,354.3 280.00,352.3 280.12,352.0 280.25,351.9 280.38,350.2 280.50,358.7 280.62,353.5 280.75,353.1 280.88,358.6 281.00,355.8 281.12,346.8 281.25,353.4 281.38,353.7 281.50,356.7 281.62,354.9 281.75,353.2 281.88,347.2 282.00,348.0 282.12,351.3 282.25,351.9 282.38,347.2 282.50,349.0 282.62,348.8 282.75,350.1 282.88,350.8 283.00,348.8 283.12,345.8 283.25,353.2 283.38,354.1 283.50,348.9 283.62,352.2 283.75,350.3 283.88,350.8 284.00,350.2 284.12,346.3 284.25,350.2 284.38,351.4 284.50,345.6 284.62,354.0 284.75,354.3 284.88,353.4 285.00,353.8 285.12,349.9 285.25,346.5 285.38,345.6 285.50,344.9 285.62,347.6 285.75,347.0 285.88,349.0 286.00,340.8 286.12,353.7 286.25,353.4 286.38,346.4 286.50,348.4 286.62,347.7 286.75,347.0 286.88,345.4 287.00,345.5 287.12,343.3 287.25,346.2 287.38,345.5 287.50,346.4 287.62,342.8 287.75,345.3 287.88,345.2 288.00,346.8 288.12,341.7 288.25,346.0 288.38,347.6 288.50,346.3 288.62,343.3 288.75,342.8 288.88,343.4 289.00,346.2 289.12,348.5 289.25,343.3 289.38,341.7 289.50,344.6 289.62,344.0 289.75,340.5 289.88,340.9 290.00,342.7 290.12,344.9 290.25,339.2 290.38,339.6 290.50,344.0 290.62,338.7 290.75,342.6 290.88,343.2 291.00,341.7 291.12,338.8 291.25,341.6 291.38,340.6 291.50,342.5 291.62,338.9 291.75,344.5 291.88,336.1 292.00,340.5 292.12,340.9 292.25,343.6 292.38,338.8 292.50,342.1 292.62,338.7 292.75,342.5 292.88,345.4 293.00,338.9 293.12,341.3 293.25,337.1 293.38,342.7 293.50,343.3 293.62,339.7 293.75,336.1 293.88,340.6 294.00,342.7 294.12,342.4 294.25,341.5 294.38,333.5 294.50,336.8 294.62,343.0 294.75,335.0 294.88,342.0 295.00,344.1 295.12,340.7 295.25,341.6 295.38,337.2 295.50,334.4 295.62,337.7 295.75,337.3 295.88,337.6 296.00,339.7 296.12,337.1 296.25,338.0 296.38,338.6 296.50,337.2 296.62,342.7 296.75,338.4 296.88,337.2 297.00,336.2 297.12,334.9 297.25,340.7 297.38,337.0 297.50,333.2 297.62,334.6 297.75,335.8 297.88,334.8 298.00,339.3 298.12,332.4 298.25,337.3 298.38,336.2 298.50,332.1 298.62,335.7 298.75,335.1 298.88,336.8 299.00,333.9 299.12,336.0 299.25,330.0 299.38,331.7 299.50,337.2 299.62,337.8 299.75,334.6 299.88,332.7 300.00,337.7 300.12,328.0 300.25,331.8 300.38,336.1 300.50,336.0 300.62,330.8 300.75,328.2 300.88,338.2 301.00,334.2 301.12,331.0 301.25,333.8 301.38,336.3 301.50,325.8 301.62,336.8 301.75,335.7 301.88,327.2 302.00,335.7 302.12,327.9 302.25,336.7 302.38,334.4 302.50,339.9 302.62,331.2 302.75,333.0 302.88,336.1 303.00,331.0 303.12,330.7 303.25,331.7 303.38,332.5 303.50,329.4 303.62,334.1 303.75,334.2 303.88,332.7 304.00,337.6 304.12,331.4 304.25,336.3 304.38,330.7 304.50,334.5 304.62,326.4 304.75,332.7 304.88,331.6 305.00,330.5 305.12,330.1 305.25,330.9 305.38,329.7 305.50,325.2 305.62,330.0 305.75,330.1 305.88,330.1 306.00,328.4 306.12,331.1 306.25,333.8 306.38,330.7 306.50,329.9 306.62,335.4 306.75,334.2 306.88,334.0 307.00,334.6 307.12,330.1 307.25,330.7 307.38,334.3 307.50,329.3 307.62,330.5 307.75,332.0 307.88,331.9 308.00,329.9 308.12,333.6 308.25,330.1 308.38,332.7 308.50,333.7 308.62,332.4 308.75,332.6 308.88,326.9 309.00,326.4 309.12,328.5 309.25,331.7 309.38,334.8 309.50,326.5 309.62,331.1 309.75,327.6 309.88,327.9 310.00,329.2 310.12,332.1 310.25,330.6 310.38,333.5 310.50,327.0 310.62,332.6 310.75,332.6 310.88,330.0 311.00,331.2 311.12,328.1 311.25,326.4 311.38,328.5 311.50,327.7 311.62,338.3 311.75,328.1 311.88,334.5 312.00,330.1 312.12,330.4 312.25,331.7 312.38,327.1 312.50,332.1 312.62,330.5 312.75,324.7 312.88,331.1 313.00,330.9 313.12,330.5 313.25,333.9 313.38,327.9 313.50,330.6 313.62,331.3 313.75,326.3 313.88,332.6 314.00,324.6 314.12,325.0 314.25,330.4 314.38,325.6 314.50,328.4 314.62,323.8 314.75,328.9 314.88,325.3 315.00,329.7 315.12,324.0 315.25,329.9 315.38,327.7 315.50,328.7 315.62,328.3 315.75,328.8 315.88,324.4 316.00,320.7 316.12,328.4 316.25,325.5 316.38,326.9 316.50,329.5 316.62,322.2 316.75,325.9 316.88,326.3 317.00,324.9 317.12,329.0 317.25,327.6 317.38,325.5 317.50,325.0 317.62,330.3 317.75,325.9 317.88,329.6 318.00,329.1 318.12,322.1 318.25,324.5 318.38,327.7 318.50,328.7 318.62,329.9 318.75,330.0 318.88,330.6 319.00,326.4 319.12,326.8 319.25,329.8 319.38,326.1 319.50,330.5 319.62,322.6 319.75,329.2 319.88,326.7 320.00,321.3 320.12,330.1 320.25,328.1 320.38,327.2 320.50,323.8 320.62,325.6 320.75,331.5 320.88,324.5 321.00,316.5 321.12,324.3 321.25,323.3 321.38,326.4 321.50,325.6 321.62,324.0 321.75,324.2 321.88,329.8 322.00,322.3 322.12,332.5 322.25,324.9 322.38,323.3 322.50,328.9 322.62,328.2 322.75,323.3 322.88,328.7 323.00,320.9 323.12,323.6 323.25,329.8 323.38,325.6 323.60,327.0 324.10,318.0 324.60,312.5 325.10,313.0 325.50,321.0 325.90,316.0 326.30,327.0 326.70,322.0 327.10,331.0 327.50,324.0 327.90,332.0 328.30,326.0 328.70,330.0 329.10,323.0 329.50,328.0 329.90,318.0 330.30,326.0 330.60,313.0 330.90,321.0M334.10,320.0 334.50,326.0 334.90,322.0 335.30,329.0 335.70,324.0 336.10,331.0 336.50,326.0 336.90,332.0 337.30,325.0 337.70,329.0 338.10,318.0 338.50,314.0 338.90,312.3 339.30,313.0 339.70,319.0 340.10,315.0 340.50,323.0 341.00,328.0 341.50,324.0 341.62,328.0 341.75,324.8 341.88,325.1 342.00,327.5 342.12,325.3 342.25,322.7 342.38,326.2 342.50,325.8 342.62,331.7 342.75,323.3 342.88,329.5 343.00,324.3 343.12,325.6 343.25,325.7 343.38,327.6 343.50,329.4 343.62,332.1 343.75,324.9 343.88,330.9 344.00,329.9 344.12,329.4 344.25,324.7 344.38,329.7 344.50,326.7 344.62,328.2 344.75,326.3 344.88,329.2 345.00,330.6 345.12,330.6 345.25,326.7 345.38,330.3 345.50,331.7 345.62,324.6 345.75,331.8 345.88,323.5 346.00,329.1 346.12,329.3 346.25,332.0 346.38,328.4 346.50,326.2 346.62,325.3 346.75,324.0 346.88,330.0 347.00,327.1 347.12,325.7 347.25,329.5 347.38,325.6 347.50,326.6 347.62,326.6 347.75,333.0 347.88,332.4 348.00,327.6 348.12,323.4 348.25,329.0 348.38,328.4 348.50,329.3 348.62,329.9 348.75,327.3 348.88,331.1 349.00,330.9 349.12,329.0 349.25,327.2 349.38,327.0 349.50,330.6 349.62,325.2 349.75,328.1 349.88,326.4 350.00,324.5 350.12,330.5 350.25,328.6 350.38,328.9 350.50,331.4 350.62,324.3 350.75,328.7 350.88,329.8 351.00,331.4 351.12,325.7 351.25,331.1 351.38,329.7 351.50,333.1 351.62,332.5 351.75,330.8 351.88,335.6 352.00,329.2 352.12,328.0 352.25,328.3 352.38,326.5 352.50,329.3 352.62,323.8 352.75,329.2 352.88,330.7 353.00,332.5 353.12,328.5 353.25,333.7 353.38,327.7 353.50,329.2 353.62,324.0 353.75,327.4 353.88,327.4 354.00,334.2 354.12,331.4 354.25,326.6 354.38,331.5 354.50,331.3 354.62,329.3 354.75,330.1 354.88,329.1 355.00,328.5 355.12,324.9 355.25,329.9 355.38,333.9 355.50,334.4 355.62,329.4 355.75,328.1 355.88,329.7 356.00,333.0 356.12,331.4 356.25,328.7 356.38,331.5 356.50,329.9 356.62,332.1 356.75,329.4 356.88,326.4 357.00,330.9 357.12,333.0 357.25,327.6 357.38,330.6 357.50,333.5 357.62,329.9 357.75,329.1 357.88,337.0 358.00,333.6 358.12,334.2 358.25,328.5 358.38,336.1 358.50,326.5 358.62,329.9 358.75,333.6 358.88,335.4 359.00,328.9 359.12,329.7 359.25,332.3 359.38,326.1 359.50,333.7 359.62,333.5 359.75,330.6 359.88,333.5 360.00,334.3 360.12,333.0 360.25,333.7 360.38,336.6 360.50,330.9 360.62,332.8 360.75,330.8 360.88,335.4 361.00,331.3 361.12,333.9 361.25,333.0 361.38,332.8 361.50,337.7 361.62,332.5 361.75,336.9 361.88,335.3 362.00,336.7 362.12,332.5 362.25,335.7 362.38,335.3 362.50,331.3 362.62,334.0 362.75,332.9 362.88,333.2 363.00,337.1 363.12,331.3 363.25,328.6 363.38,328.5 363.50,332.3 363.62,331.7 363.75,333.7 363.88,335.4 364.00,338.9 364.12,334.7 364.25,335.2 364.38,331.8 364.50,335.7 364.62,338.0 364.75,338.1 364.88,328.6 365.00,337.0 365.12,339.1 365.25,337.0 365.38,330.4 365.50,333.9 365.62,336.6 365.75,336.2 365.88,332.8 366.00,332.6 366.12,338.1 366.25,331.6 366.38,339.7 366.50,335.7 366.62,336.6 366.75,332.0 366.88,334.2 367.00,338.0 367.12,331.9 367.25,342.2 367.38,332.3 367.50,332.9 367.62,336.7 367.75,338.0 367.88,338.9 368.00,335.8 368.12,336.3 368.25,336.4 368.38,335.5 368.50,329.8 368.62,340.1 368.75,338.2 368.88,338.0 369.00,335.8 369.12,338.5 369.25,337.8 369.38,337.7 369.50,341.2 369.62,333.2 369.75,339.0 369.88,335.3 370.00,337.6 370.12,342.9 370.25,335.5 370.38,338.5 370.50,337.2 370.62,341.7 370.75,336.3 370.88,334.3 371.00,340.8 371.12,338.4 371.25,338.6 371.38,342.7 371.50,337.1 371.62,338.7 371.75,340.3 371.88,341.2 372.00,338.6 372.12,343.2 372.25,346.8 372.38,339.2 372.50,345.9 372.62,334.5 372.75,344.8 372.88,339.9 373.00,341.4 373.12,340.1 373.25,339.4 373.38,337.7 373.50,340.4 373.62,345.4 373.75,345.0 373.88,340.9 374.00,340.5 374.12,340.1 374.25,338.8 374.38,347.6 374.50,344.4 374.62,343.0 374.75,341.3 374.88,339.9 375.00,346.8 375.12,345.4 375.25,340.5 375.38,346.2 375.50,340.3 375.62,345.5 375.75,341.0 375.88,342.7 376.00,345.4 376.12,345.4 376.25,347.2 376.38,342.0 376.50,349.0 376.62,348.5 376.75,344.7 376.88,346.2 377.00,342.7 377.12,344.6 377.25,341.4 377.38,345.6 377.50,346.0 377.62,349.4 377.75,348.4 377.88,348.1 378.00,344.9 378.12,345.4 378.25,345.2 378.38,346.9 378.50,340.8 378.62,348.7 378.75,342.1 378.88,345.3 379.00,346.9 379.12,345.5 379.25,351.9 379.38,346.9 379.50,351.9 379.62,350.8 379.75,346.1 379.88,348.8 380.00,351.5 380.12,347.0 380.25,348.3 380.38,346.5 380.50,348.4 380.62,347.4 380.75,348.7 380.88,351.5 381.00,352.7 381.12,349.2 381.25,349.6 381.38,351.6 381.50,348.4 381.62,346.3 381.75,352.6 381.88,346.9 382.00,352.4 382.12,347.0 382.25,355.2 382.38,347.0 382.50,352.6 382.62,354.6 382.75,347.6 382.88,354.8 383.00,348.2 383.12,345.7 383.25,352.9 383.38,353.0 383.50,350.5 383.62,343.9 383.75,351.2 383.88,350.6 384.00,350.5 384.12,350.8 384.25,346.6 384.38,350.3 384.50,357.2 384.62,356.6 384.75,351.2 384.88,350.3 385.00,353.6 385.12,355.7 385.25,354.8 385.38,349.5 385.50,353.5 385.62,353.5 385.75,357.4 385.88,356.8 386.00,355.0 386.12,357.1 386.25,352.6 386.38,358.3 386.50,352.8 386.62,355.3 386.75,356.9 386.88,351.7 387.00,352.5 387.12,349.6 387.25,355.2 387.38,354.7 387.50,354.1 387.62,356.6 387.75,349.2 387.88,355.3 388.00,355.8 388.12,354.9 388.25,358.0 388.38,360.9 388.50,354.7 388.62,353.4 388.75,354.5 388.88,356.6 389.00,358.2 389.12,354.1 389.25,359.6 389.38,353.9 389.50,359.4 389.62,358.4 389.75,358.6 389.88,363.6 390.00,356.7 390.12,357.1 390.25,359.1 390.38,360.4 390.50,354.1 390.62,358.9 390.75,356.1 390.88,360.2 391.00,362.4 391.12,358.8 391.25,358.4 391.38,359.4 391.50,350.5 391.62,361.3 391.75,360.9 391.88,359.8 392.00,358.4 392.12,357.5 392.25,359.2 392.38,363.4 392.50,359.7 392.62,364.0 392.75,352.8 392.88,359.1 393.00,361.3 393.12,360.6 393.25,356.0 393.38,359.0 393.50,364.6 393.62,357.4 393.75,358.4 393.88,358.2 394.00,359.9 394.12,363.5 394.25,363.5 394.38,356.0 394.50,366.2 394.62,360.4 394.75,360.6 394.88,367.2 395.00,362.3 395.12,359.0 395.25,360.9 395.38,360.7 395.50,360.0 395.62,362.1 395.75,365.6 395.88,364.2 396.00,359.4 396.12,371.5 396.25,360.7 396.38,364.0 396.50,363.8 396.62,366.0 396.75,363.0 396.88,365.4 397.00,370.2 397.12,364.5 397.25,361.2 397.38,365.4 397.50,362.3 397.62,363.6 397.75,365.3 397.88,365.9 398.00,364.2 398.12,367.5 398.25,364.6 398.38,361.5 398.50,367.9 398.62,364.5 398.75,369.1 398.88,363.8 399.00,367.5 399.12,366.8 399.25,358.3 399.38,361.8 399.50,363.0 399.62,370.4 399.75,361.0 399.88,369.2 400.00,369.8 400.12,368.2 400.25,368.8 400.38,365.5 400.50,367.0 400.62,367.8 400.75,368.5 400.88,369.4 401.00,366.9 401.12,365.6 401.25,366.1 401.38,369.0 401.50,363.1 401.62,364.4 401.75,366.9 401.88,366.6 402.00,367.5 402.12,360.7 402.25,367.5 402.38,367.9 402.50,371.0 402.62,363.1 402.75,368.1 402.88,370.4 403.00,370.5 403.12,372.7 403.25,372.4 403.38,366.4 403.50,371.4 403.62,368.7 403.75,367.4 403.88,374.3 404.00,368.2 404.12,367.6 404.25,369.0 404.38,367.8 404.50,373.3 404.62,371.6 404.75,374.6 404.88,371.9 405.00,369.0 405.12,373.9 405.25,369.1 405.38,369.8 405.50,370.7 405.62,371.5 405.75,374.9 405.88,369.8 406.00,372.7 406.12,371.7 406.25,368.2 406.38,368.8 406.50,371.5 406.62,373.4 406.75,373.2 406.88,373.8 407.00,372.7 407.12,371.3 407.25,374.0 407.38,369.9 407.50,369.1 407.62,372.1 407.75,369.0 407.88,371.8 408.00,371.2 408.12,371.9 408.25,373.5 408.38,371.4 408.50,372.6 408.62,369.0 408.75,374.4 408.88,371.6 409.00,375.4 409.12,366.2 409.25,372.1 409.38,375.3 409.50,367.6 409.62,373.7 409.75,375.2 409.88,375.3 410.00,370.8 410.12,375.9 410.25,375.7 410.38,372.6 410.50,377.7 410.62,375.5 410.75,375.8 410.88,374.6 411.00,377.5 411.12,376.3 411.25,379.5 411.38,377.6 411.50,374.6 411.62,375.9 411.75,379.3 411.88,375.7 412.00,377.9 412.12,378.4 412.25,376.5 412.38,370.4 412.50,377.6 412.62,378.0 412.75,377.9 412.88,375.4 413.00,381.2 413.12,377.4 413.25,376.1 413.38,375.9 413.50,379.1 413.62,375.1 413.75,375.4 413.88,384.2 414.00,382.3 414.12,381.7 414.25,382.7 414.38,380.6 414.50,374.1 414.62,382.5 414.75,382.8 414.88,380.7 415.00,373.7 415.12,383.1 415.25,383.6 415.38,378.3 415.50,380.2 415.62,382.2 415.75,379.9 415.88,383.4 416.00,380.6 416.12,382.5 416.25,380.8 416.38,376.4 416.50,377.9 416.62,390.1 416.75,381.9 416.88,385.0 417.00,384.6 417.12,386.4 417.25,383.1 417.38,379.9 417.50,381.8 417.62,376.3 417.75,381.5 417.88,384.8 418.00,376.0 418.12,382.9 418.25,384.9 418.38,386.5 418.50,380.0 418.62,380.9 418.75,377.5 418.88,380.1 419.00,384.7 419.12,389.3 419.25,380.1 419.38,387.6 419.50,384.9 419.62,382.3 419.75,390.3 419.88,376.7 420.00,383.9 420.12,384.9 420.25,390.6 420.38,389.7 420.50,391.2 420.62,385.1 420.75,387.7 420.88,388.9 421.00,386.6 421.12,386.2 421.25,384.8 421.38,384.2 421.50,382.0 421.62,391.4 421.75,384.5 421.88,379.8 422.00,386.8 422.12,386.0 422.25,386.8 422.38,391.7 422.50,386.2 422.62,385.8 422.75,384.5 422.88,386.7 423.00,385.6 423.12,387.6 423.25,396.2 423.38,388.3 423.50,384.8 423.62,393.0 423.75,390.0 423.88,390.0 424.00,389.8 424.12,390.2 424.25,389.9 424.38,392.1 424.50,391.0 424.62,392.1 424.75,386.8 424.88,388.4 425.00,386.3 425.12,391.4 425.25,391.1 425.38,387.4 425.50,390.6 425.62,396.6 425.75,392.7 425.88,385.9 426.00,389.0 426.12,391.2 426.25,389.4 426.38,390.7 426.50,393.1 426.62,390.7 426.75,386.6 426.88,392.0 427.00,389.8 427.12,390.5 427.25,388.6 427.38,386.3 427.50,386.8 427.62,389.5 427.75,387.5 427.88,382.8 428.00,394.2 428.12,387.5 428.25,388.9 428.38,392.7 428.50,384.2 428.62,395.3 428.75,389.2 428.88,393.5 429.00,390.2 429.12,392.6 429.25,392.1 429.38,391.9 429.50,386.7 429.62,387.8 429.75,392.1 429.88,396.4 430.00,390.8 430.12,394.1 430.25,393.1 430.38,394.1 430.50,395.7 430.62,388.5 430.75,393.8 430.88,392.6 431.00,392.3 431.12,390.8 431.25,391.1 431.38,390.5 431.50,390.4 431.62,401.0 431.75,398.8 431.88,393.9 432.00,396.2 432.12,391.2 432.25,386.0 432.38,388.9 432.50,394.8 432.62,398.7 432.75,394.4 432.88,391.7 433.00,394.0 433.12,391.9 433.25,390.8 433.38,394.3 433.50,393.9 433.62,392.8 433.75,392.7 433.88,392.6 434.00,396.1 434.12,399.6 434.25,395.0 434.38,402.3 434.50,391.1 434.62,396.7 434.75,392.6 434.88,395.6 435.00,396.5 435.12,397.9 435.25,399.7 435.38,394.8 435.50,392.9 435.62,396.1 435.75,397.6 435.88,394.8 436.00,399.5 436.12,401.9 436.25,392.9 436.38,398.2 436.50,400.2 436.62,391.7 436.75,398.0 436.88,396.9 437.00,393.4 437.12,401.5 437.25,398.4 437.38,396.5 437.50,399.3 437.62,399.9 437.75,400.4 437.88,399.9 438.00,399.5 438.12,395.0 438.25,397.3 438.38,399.0 438.50,390.6 438.62,405.0 438.75,397.8 438.88,395.9 439.00,393.7 439.12,399.9 439.25,399.3 439.38,397.6 439.50,398.2 439.62,396.9 439.75,397.4 439.88,399.4 440.00,397.9 440.12,401.9 440.25,399.5 440.38,400.4 440.50,401.3 440.62,403.9 440.75,402.1 440.88,401.1 441.00,400.0 441.12,398.2 441.25,399.6 441.38,402.7 441.50,401.5 441.62,399.7 441.75,397.0 441.88,396.5 442.00,402.0 442.12,404.2 442.25,402.3 442.38,397.3 442.50,400.7 442.62,402.1 442.75,398.8 442.88,402.6 443.00,401.1 443.12,399.3 443.25,398.2 443.38,404.2 443.50,403.0 443.62,399.4 443.75,399.1 443.88,404.8 444.00,404.0 444.12,401.4 444.25,407.0 444.38,401.6 444.50,399.4 444.62,405.8 444.75,402.1 444.88,403.8 445.00,402.9 445.12,400.0 445.25,399.5 445.38,402.5 445.50,407.2 445.62,400.2 445.75,407.2 445.88,404.0 446.00,400.1 446.12,404.2 446.25,405.2 446.38,401.0 446.50,397.5 446.62,404.8 446.75,400.6 446.88,405.2 447.00,398.4 447.12,403.6 447.25,401.8 447.38,399.9 447.50,403.6 447.62,404.8 447.75,402.8 447.88,401.0 448.00,405.2 448.12,399.5 448.25,406.3 448.38,406.2 448.50,409.7 448.62,407.5 448.75,406.0 448.88,405.8 449.00,405.2 449.12,401.3 449.25,409.5 449.38,406.9 449.50,404.6 449.62,402.2 449.75,409.9 449.88,407.2 450.00,402.3 450.12,407.7 450.25,411.4 450.38,405.9 450.50,407.2 450.62,404.9 450.75,404.3 450.88,409.3 451.00,415.2 451.12,406.8 451.25,406.3 451.38,409.2 451.50,406.3 451.62,409.5 451.75,410.0 451.88,404.9 452.00,405.0 452.12,408.1 452.25,411.0 452.38,409.6 452.50,412.6 452.62,404.9 452.75,410.2 452.88,406.9 453.00,408.9 453.12,409.4 453.25,405.5 453.38,407.6 453.50,404.8 453.62,408.8 453.75,405.5 453.88,406.4 454.00,408.4 454.12,405.9 454.25,411.2 454.38,405.7 454.50,409.4 454.62,407.1 454.75,402.7 454.88,404.4 455.00,402.0 455.12,402.8 455.25,402.4 455.38,407.9 455.50,400.7 455.62,405.9 455.75,402.0 455.88,396.3 456.00,392.7 456.12,400.8 456.25,392.4 456.38,399.7 456.50,400.0 456.62,398.9 456.75,397.9 456.88,398.5 457.00,400.7 457.12,399.8 457.25,399.9 457.38,401.1 457.50,406.4 457.62,401.9 457.75,405.5 457.88,401.8 458.00,403.9 458.12,402.7 458.25,406.8 458.38,410.1 458.50,409.8 458.62,408.2 458.75,411.9 458.88,409.2 459.00,411.3 459.12,411.1 459.25,411.9 459.38,403.2 459.50,406.7 459.62,412.8 459.75,410.3 459.88,417.2 460.00,410.1 460.12,409.2 460.25,415.2 460.38,412.6 460.50,416.5 460.62,412.5 460.75,410.5 460.88,413.3 461.00,409.0 461.12,410.0 461.25,409.8 461.38,410.8 461.50,413.8 461.62,410.2 461.75,412.6 461.88,410.3 462.00,414.4 462.12,403.9 462.25,411.3 462.38,412.5 462.50,408.9 462.62,415.1 462.75,412.8 462.88,416.0 463.00,415.1 463.12,414.3 463.25,412.0 463.38,409.4 463.50,412.0 463.62,411.3 463.75,413.5 463.88,411.5 464.00,421.7 464.12,408.3 464.25,416.4 464.38,411.7 464.50,412.5 464.62,415.9 464.75,413.3 464.88,409.8 465.00,414.6 465.12,412.9 465.25,407.6 465.38,414.2 465.50,410.6 465.62,411.6 465.75,415.2 465.88,414.8 466.00,413.1 466.12,420.3 466.25,415.3 466.38,412.4 466.50,414.9 466.62,413.9 466.75,408.0 466.88,409.9 467.00,410.5 467.12,420.5 467.25,414.1 467.38,413.8 467.50,413.1 467.62,417.6 467.75,414.9 467.88,419.8 468.00,417.2 468.12,419.7 468.25,414.6 468.38,416.1 468.50,413.8 468.62,414.6 468.75,410.2 468.88,413.5 469.00,412.5 469.12,413.4 469.25,418.9 469.38,416.2 469.50,419.0 469.62,418.0 469.75,418.2 469.88,418.5 470.00,413.9 470.12,418.0 470.25,414.8 470.38,414.3 470.50,419.3 470.62,422.2 470.75,413.1 470.88,421.0 471.00,418.5 471.12,413.7 471.25,416.9 471.38,417.3 471.50,417.3 471.62,415.3 471.75,412.6 471.88,416.5 472.00,418.9 472.12,418.8 472.25,418.5 472.38,419.8 472.50,413.8 472.62,416.6 472.75,417.7 472.88,419.7 473.00,417.3 473.12,418.4 473.25,417.3 473.38,423.0 473.50,410.7 473.62,417.0 473.75,424.3 473.88,417.9 474.00,411.9 474.12,417.7 474.25,413.2 474.38,415.4 474.50,418.1 474.62,422.4 474.75,418.9 474.88,419.5 475.00,420.6 475.12,418.2 475.25,415.2 475.38,417.5 475.50,418.8 475.62,417.1 475.75,416.0 475.88,416.9 476.00,413.7 476.12,415.1 476.25,417.8 476.38,417.1 476.50,418.3 476.62,422.2 476.75,419.1 476.88,418.2 477.00,414.9 477.12,415.2 477.25,419.5 477.38,415.9 477.50,419.7 477.62,415.4 477.75,418.9 477.88,418.4 478.00,421.5 478.12,417.5 478.25,417.6 478.38,419.4 478.50,418.9 478.62,423.7 478.75,418.1 478.88,417.3 479.00,418.0 479.12,420.3 479.25,419.7 479.38,421.0 479.50,415.1 479.62,426.3 479.75,424.5 479.88,419.1 480.00,415.7 480.12,419.7 480.25,420.5 480.38,412.9 480.50,419.4 480.62,415.2 480.75,420.8 480.88,423.5 481.00,422.5 481.12,415.2 481.25,423.6 481.38,422.3 481.50,418.7 481.62,421.2 481.75,424.1 481.88,418.9 482.00,419.8 482.12,418.3 482.25,423.3 482.38,413.7 482.50,424.1 482.62,417.3 482.75,422.8 482.88,415.4 483.00,417.5 483.12,418.5 483.25,422.7 483.38,415.6 483.50,422.1 483.62,418.6 483.75,424.0 483.88,419.6 484.00,421.9 484.12,420.1 484.25,425.8 484.38,419.6 484.50,420.6 484.62,426.5 484.75,421.0 484.88,422.8 485.00,418.8 485.12,421.5 485.25,414.4 485.38,421.3 485.50,419.2 485.62,416.8 485.75,417.1 485.88,424.5 486.00,422.5 486.12,416.9 486.25,426.6 486.38,419.4 486.50,420.4 486.62,422.2 486.75,418.2 486.88,416.9 487.00,419.5 487.12,425.1 487.25,424.4 487.38,417.2 487.50,425.3 487.62,421.9 487.75,423.3 487.88,422.1 488.00,423.2 488.12,419.1 488.25,419.4 488.38,420.1 488.50,421.1 488.62,424.0 488.75,418.7 488.88,426.9 489.00,420.5 489.12,420.7 489.25,424.4 489.38,423.7 489.50,421.5 489.62,419.5 489.75,419.7 489.88,418.0 490.00,426.0 490.12,425.9 490.25,428.2 490.38,424.3 490.50,423.9 490.62,425.2 490.75,425.8 490.88,422.3 491.00,424.2 491.12,429.4 491.25,418.4 491.38,419.2 491.50,420.6 491.62,425.6 491.75,426.9 491.88,422.5 492.00,425.5 492.12,423.5 492.25,424.5 492.38,422.2 492.50,423.7 492.62,423.8 492.75,427.1 492.88,430.4 493.00,418.7 493.12,425.6 493.25,424.1 493.38,426.9 493.50,427.3 493.62,426.5 493.75,426.6 493.88,421.6 494.00,419.5 494.12,429.3 494.25,428.0 494.38,421.8 494.50,428.3 494.62,426.6 494.75,417.6 494.88,427.4 495.00,422.0 495.12,428.2 495.25,423.0 495.38,422.8 495.50,420.6 495.62,424.5 495.75,428.1 495.88,423.3 496.00,419.9 496.12,431.5 496.25,430.7 496.38,427.4 496.50,423.9 496.62,422.0 496.75,420.8 496.88,427.2 497.00,429.4 497.12,422.7 497.25,425.8 497.38,425.0 497.50,425.1 497.62,427.4 497.75,432.0 497.88,424.2 498.00,428.6 498.12,429.3 498.25,425.4 498.38,425.8 498.50,422.4 498.62,429.5 498.75,424.9 498.88,424.6 499.00,426.7 499.12,424.1 499.25,423.6 499.38,425.8 499.50,431.0 499.62,426.2 499.75,428.4 499.88,422.6 500.00,421.3 500.12,432.3 500.25,425.9 500.38,422.7 500.50,426.8 500.62,429.0 500.75,422.3 500.88,424.8 501.00,428.1 501.12,424.8 501.25,429.8 501.38,430.3 501.50,428.9 501.62,426.4 501.75,427.5 501.88,425.9 502.00,427.4 502.12,428.8 502.25,427.0 502.38,430.8 502.50,435.5 502.62,426.4 502.75,429.1 502.88,430.5 503.00,430.0 503.12,427.5 503.25,426.8 503.38,431.1 503.50,430.1 503.62,429.8 503.75,426.0 503.88,430.2 504.00,430.7 504.12,427.9 504.25,430.3 504.38,434.8 504.50,423.1 504.62,430.3 504.75,425.2 504.88,424.7 505.00,428.0 505.12,430.3 505.25,428.9 505.38,425.4 505.50,424.6 505.62,427.2 505.75,428.9 505.88,426.5 506.00,424.6 506.12,434.1 506.25,426.6 506.38,428.6 506.50,427.5 506.62,427.4 506.75,429.2 506.88,428.3 507.00,431.0 507.12,425.8 507.25,425.0 507.38,435.0 507.50,429.1 507.62,431.6 507.75,432.8 507.88,431.0 508.00,429.6 508.12,425.0 508.25,424.9 508.38,432.4 508.50,431.6 508.62,431.3 508.75,424.8 508.88,423.5 509.00,426.7 509.12,426.3 509.25,430.3 509.38,426.9 509.50,434.5 509.62,428.1 509.75,428.3 509.88,432.5 510.00,431.0 510.12,427.4 510.25,432.5 510.38,435.7 510.50,426.6 510.62,429.4 510.75,427.1 510.88,424.6 511.00,432.1 511.12,432.3 511.25,433.2 511.38,431.6 511.50,424.5 511.62,430.4 511.75,428.5 511.88,427.1 512.00,427.3 512.12,432.8 512.25,429.7 512.38,436.4 512.50,432.0 512.62,425.1 512.75,433.3 512.88,434.4 513.00,430.9 513.12,427.3 513.25,436.0 513.38,427.1 513.50,430.7 513.62,425.4 513.75,427.3 513.88,426.1 514.00,434.2 514.12,434.5 514.25,430.0 514.38,427.2 514.50,431.0 514.62,432.3 514.75,426.8 514.88,427.9 515.00,431.0 515.12,433.4 515.25,431.6 515.38,432.7 515.50,427.8 515.62,424.2 515.75,432.4 515.88,428.9 516.00,431.2 516.12,430.5 516.25,433.1 516.38,429.4 516.50,436.0 516.62,431.9 516.75,433.3 516.88,433.7 517.00,434.9 517.12,433.1 517.25,426.8 517.38,430.1 517.50,437.5 517.62,433.4 517.75,433.7 517.88,433.5 518.00,430.3 518.12,430.2 518.25,430.3 518.38,435.6 518.50,433.3 518.62,437.5 518.75,433.8 518.88,437.9 519.00,433.7 519.12,429.0 519.25,437.6 519.38,433.5 519.50,436.0 519.62,433.2 519.75,431.6 519.88,433.1 520.00,429.4 520.12,429.2 520.25,430.1 520.38,431.2 520.50,428.8 520.62,432.5 520.75,433.8 520.88,438.9 521.00,438.3 521.12,432.8 521.25,435.6 521.38,432.4 521.50,434.2 521.62,433.0 521.75,431.5 521.88,433.4 522.00,428.8 522.12,434.5 522.25,432.4 522.38,430.1 522.50,432.3 522.62,435.0 522.75,431.4 522.88,434.8 523.00,435.1 523.12,438.1 523.25,430.3 523.38,433.2 523.50,435.1 523.62,438.1 523.75,434.4 523.88,435.9 524.00,429.4 524.12,432.0 524.25,438.7 524.38,433.0 524.50,440.3 524.62,431.7 524.75,433.1 524.88,429.3 525.00,435.9 525.12,434.8 525.25,440.0 525.38,434.6 525.50,433.4 525.62,430.0 525.75,434.0 525.88,437.0 526.00,436.5 526.12,437.9 526.25,436.9 526.38,434.2 526.50,436.2 526.62,434.9 526.75,430.5 526.88,439.6 527.00,435.6 527.12,431.5 527.25,435.7 527.38,435.5 527.50,437.6 527.62,439.0 527.75,425.7 527.88,436.4 528.00,439.3 528.12,432.0 528.25,429.4 528.38,435.7 528.50,435.9 528.62,436.0 528.75,431.7 528.88,433.6 529.00,435.6 529.12,437.3 529.25,441.6 529.38,436.0 529.50,433.4 529.62,428.2 529.75,438.5 529.88,434.9 530.00,435.0 530.12,432.4 530.25,437.6 530.38,430.1 530.50,435.8 530.62,435.9 530.75,436.4 530.88,439.4 531.00,435.3 531.12,435.9 531.25,438.2 531.38,431.1 531.50,434.9 531.62,436.0 531.75,438.6 531.88,433.5 532.00,438.3 532.12,437.0 532.25,431.5 532.38,431.6 532.50,431.7 532.62,436.4 532.75,436.7 532.88,438.2 533.00,438.5 533.12,434.4 533.25,439.3 533.38,438.6 533.50,437.5 533.62,437.6 533.75,432.3 533.88,437.3 534.00,433.1 534.12,432.7 534.25,435.2 534.38,436.7 534.50,436.1 534.62,435.3 534.75,433.3 534.88,436.9 535.00,434.1 535.12,432.2 535.25,436.7 535.38,440.7 535.50,435.2 535.62,433.3 535.75,440.6 535.88,441.6 536.00,435.6 536.12,435.9 536.25,437.2 536.38,445.3 536.50,437.0 536.62,439.5 536.75,437.9 536.88,431.2 537.00,433.3 537.12,433.0 537.25,438.0 537.38,437.0 537.50,442.0 537.62,435.9 537.75,437.7 537.88,437.0 538.00,437.2 538.12,443.7 538.25,437.7 538.38,441.2 538.50,440.7 538.62,435.0 538.75,438.9 538.88,435.8 539.00,437.2 539.12,437.4 539.25,437.0 539.38,435.6 539.50,441.6 539.62,436.2 539.75,439.1 539.88,442.1 540.00,438.9 540.12,440.1 540.25,441.2 540.38,440.4 540.50,442.3 540.62,432.9 540.75,443.0 540.88,437.3 541.00,432.0 541.12,435.3 541.25,433.1 541.38,437.2 541.50,432.8 541.62,434.3 541.75,438.2 541.88,437.8 542.00,434.9 542.12,436.6 542.25,437.1 542.38,437.6 542.50,437.4 542.62,436.8 542.75,440.1 542.88,432.6 543.00,436.0 543.12,437.9 543.25,436.3 543.38,435.9 543.50,436.2 543.62,438.2 543.75,441.3 543.88,437.0 544.00,436.8 544.12,438.7 544.25,436.9 544.38,431.9 544.50,438.5 544.62,436.6 544.75,436.0 544.88,439.6 545.00,437.9 545.12,436.1 545.25,431.3 545.38,432.6 545.50,437.9 545.62,437.5 545.75,439.2 545.88,438.5 546.00,436.5 546.12,434.1 546.25,434.6 546.38,437.5 546.50,434.5 546.62,440.2 546.75,434.0 546.88,432.6 547.00,437.4 547.12,432.7 547.25,442.9 547.38,435.1 547.50,437.9 547.62,437.4 547.75,435.7 547.88,432.9 548.00,432.6 548.12,440.8 548.25,441.3 548.38,444.7 548.50,433.9 548.62,439.9 548.75,438.2 548.88,440.8 549.00,436.8 549.12,440.5 549.25,441.0 549.38,440.2 549.50,442.7 549.62,437.9 549.75,443.0 549.88,436.3 550.00,443.5 550.12,430.2 550.25,438.5 550.38,436.1 550.50,438.5 550.62,441.6 550.75,440.7 550.88,438.9 551.00,443.7 551.12,434.2 551.25,436.2 551.38,443.2 551.50,439.6 551.62,432.5 551.75,439.7 551.88,435.2 552.00,443.2 552.12,442.2 552.25,437.1 552.38,442.7 552.50,436.3 552.62,441.6 552.75,440.6 552.88,438.5 553.00,434.6 553.12,438.0 553.25,432.0 553.38,437.2 553.50,433.4 553.62,442.6 553.75,436.1 553.88,431.7 554.00,440.8 554.12,440.1 554.25,437.5 554.38,445.4 554.50,441.4 554.62,439.3 554.75,437.2 554.88,430.3 555.00,440.6 555.12,442.0 555.25,437.4 555.38,435.0 555.50,439.1 555.62,434.2 555.75,439.3 555.88,441.6 556.00,443.8 556.12,440.1 556.25,439.9 556.38,441.6 556.50,443.6 556.62,438.4 556.75,435.7 556.88,437.0 557.00,435.7 557.12,436.8 557.25,439.1 557.38,440.5 557.50,440.0 557.62,439.7 557.75,438.5 557.88,440.8 558.00,442.2 558.12,441.9 558.25,444.1 558.38,438.8 558.50,438.9 558.62,444.7 558.75,440.3 558.88,440.9 559.00,438.7 559.12,442.6 559.25,438.5 559.38,436.7 559.50,439.6 559.62,438.5 559.75,442.3 559.88,438.7 560.00,440.2 560.12,439.2 560.25,440.9 560.38,438.0 560.50,443.2 560.62,435.7 560.75,438.8 560.88,437.8 561.00,441.9 561.12,440.1 561.25,441.5 561.38,439.1 561.50,437.9 561.62,436.7 561.75,439.1 561.88,438.5 562.00,441.0 562.12,441.2 562.25,443.1 562.38,439.9 562.50,438.0 562.62,437.0 562.75,440.4 562.88,441.3 563.00,446.1 563.12,440.8 563.25,445.6 563.38,445.9 563.50,437.2 563.62,444.0 563.75,443.8 563.88,444.4 564.00,440.4 564.12,443.3 564.25,439.0 564.38,440.3 564.50,440.5 564.62,445.8 564.75,439.9 564.88,443.4 565.00,440.7 565.12,438.4 565.25,441.3 565.38,442.6 565.50,438.5 565.62,442.5 565.75,438.5 565.88,438.0 566.00,441.4 566.12,440.0 566.25,437.8 566.38,435.9 566.50,440.8 566.62,441.5 566.75,439.4 566.88,441.4 567.00,436.2 567.12,442.0 567.25,442.1 567.38,441.7 567.50,439.1 567.62,441.2 567.75,441.3 567.88,444.2 568.00,441.8 568.12,441.7 568.25,438.8 568.38,443.6 568.50,444.6 568.62,439.6 568.75,443.0 568.88,442.0 569.00,441.0 569.12,437.3 569.25,446.4 569.38,435.6 569.50,442.1 569.62,440.1 569.75,444.6 569.88,440.0 570.00,441.4 570.12,443.1 570.25,442.7 570.38,439.7 570.50,443.4 570.62,442.5 570.75,444.3 570.88,439.8 571.00,441.3 571.12,440.2 571.25,438.9 571.38,442.2 571.50,442.7 571.62,445.7 571.75,440.5 571.88,442.7 572.00,445.0 572.12,441.2 572.25,441.8 572.38,442.0 572.50,439.5 572.62,438.7 572.75,445.0 572.88,442.2 573.00,441.4 573.12,438.0 573.25,442.1 573.38,445.2 573.50,438.3 573.62,439.1 573.75,445.1 573.88,446.1 574.00,446.5 574.12,440.2 574.25,443.6 574.38,439.6 574.50,443.4 574.62,440.8 574.75,442.5 574.88,445.9 575.00,443.0 575.12,441.2 575.25,442.2 575.38,442.8 575.50,440.5 575.62,442.7 575.75,443.8 575.88,446.7 576.00,435.9 576.12,438.6 576.25,438.4 576.38,444.8 576.50,449.4 576.62,442.8 576.75,442.6 576.88,445.6 577.00,434.9 577.12,441.7 577.25,433.0 577.38,442.7 577.50,440.8 577.62,440.9 577.75,443.3 577.88,440.6 578.00,445.7 578.12,442.4 578.25,443.5 578.38,450.0 578.50,441.1 578.62,445.2 578.75,440.0 578.88,446.2 579.00,445.4 579.12,442.9 579.25,445.5 579.38,447.4 579.50,446.7 579.62,442.6 579.75,442.5 579.88,445.9 580.00,438.3 580.12,440.9 580.25,444.1 580.38,444.4 580.50,448.3 580.62,448.0 580.75,443.7 580.88,444.1 581.00,438.9 581.12,442.3 581.25,443.6 581.38,442.2 581.50,443.0 581.62,444.7 581.75,440.1 581.88,441.2 582.00,437.6 582.12,446.3 582.25,439.8 582.38,437.9 582.50,445.3 582.62,442.4 582.75,445.9 582.88,442.0 583.00,449.4 583.12,445.2 583.25,443.6 583.38,443.5 583.50,442.5 583.62,445.6 583.75,449.1 583.88,441.9 584.00,440.0 584.12,445.0 584.25,446.4 584.38,438.8 584.50,441.2 584.62,440.3 584.75,445.0 584.88,444.8 585.00,441.2 585.12,440.0 585.25,445.4 585.38,437.3 585.50,445.3 585.62,443.0 585.75,449.1 585.88,446.4 586.00,441.8 586.12,442.7 586.25,442.7 586.38,441.4 586.50,443.8 586.62,446.4 586.75,439.1 586.88,442.9 587.00,448.0 587.12,445.8 587.25,441.3 587.38,441.3 587.50,441.2 587.62,439.0 587.75,447.1 587.88,444.0 588.00,441.7 588.12,439.5 588.25,442.7 588.38,442.3 588.50,448.9 588.62,442.5 588.75,444.2 588.88,447.1 589.00,445.9 589.12,443.4 589.25,437.5 589.38,448.1 589.50,445.7 589.62,442.7 589.75,443.8 589.88,441.2 590.00,441.4 590.12,439.7 590.25,445.6 590.38,445.6 590.50,444.6 590.62,446.4 590.75,445.7 590.88,444.5 591.00,441.6 591.12,446.0 591.25,447.7 591.38,446.1 591.50,447.9 591.62,442.9 591.75,441.4 591.88,448.0 592.00,442.6 592.12,445.1 592.25,443.8 592.38,444.4 592.50,443.6 592.62,442.8 592.75,439.2 592.88,450.1 593.00,445.1 593.12,438.8 593.25,441.8 593.38,441.2 593.50,442.4 593.62,437.1 593.75,446.3 593.88,449.4 594.00,443.9 594.12,446.8 594.25,446.4 594.38,441.0 594.50,448.3 594.62,439.7 594.75,443.0 594.88,443.7 595.00,448.4 595.12,445.1 595.25,444.4 595.38,442.4 595.50,445.1 595.62,445.0 595.75,447.0 595.88,449.0 596.00,447.1 596.12,445.0 596.25,444.5 596.38,449.6 596.50,445.6 596.62,444.9 596.75,450.3 596.88,449.6 597.00,446.7 597.12,444.7 597.25,443.2 597.38,448.2 597.50,443.8 597.62,447.9 597.75,442.8 597.88,445.5 598.00,446.4 598.12,445.6 598.25,445.9 598.38,446.3 598.50,441.9 598.62,442.0 598.75,444.8 598.88,450.6 599.00,444.9 599.12,442.6 599.25,443.4 599.38,445.5 599.50,448.8 599.62,443.7 599.75,447.1 599.88,446.0 600.00,444.4 600.12,442.7 600.25,445.0 600.38,443.4 600.50,447.1 600.62,440.4 600.75,448.9 600.88,447.8 601.00,447.3 601.12,450.0 601.25,447.4 601.38,440.6 601.50,445.8 601.62,447.0 601.75,443.7 601.88,442.4 602.00,447.0 602.12,447.2 602.25,444.5 602.38,445.1 602.50,444.3 602.62,444.2 602.75,445.7 602.88,449.0 603.00,441.2 603.12,444.9 603.25,450.6 603.38,446.9 603.50,446.4 603.62,448.4 603.75,443.0 603.88,442.5 604.00,441.2 604.12,441.8 604.25,446.8 604.38,448.5 604.50,444.9 604.62,444.1 604.75,447.3 604.88,447.9 605.00,446.9 605.12,440.6 605.25,444.6 605.38,438.8 605.50,446.9 605.62,443.8 605.75,444.3 605.88,450.7 606.00,450.2 606.12,447.7 606.25,447.1 606.38,446.8 606.50,444.6 606.62,446.2 606.75,452.0 606.88,443.9 607.00,444.5 607.12,446.9 607.25,449.1 607.38,448.9 607.50,443.7 607.62,446.1 607.75,445.8 607.88,443.0 608.00,446.8 608.12,445.2 608.25,449.3 608.38,447.9 608.50,444.4 608.62,446.9 608.75,445.6 608.88,444.8 609.00,445.3 609.12,449.8 609.25,445.5 609.38,441.8 609.50,444.5 609.62,449.2 609.75,453.1 609.88,443.8 610.00,445.8" stroke="#ff0000" stroke-width="1" fill="none" shape-rendering="crispEdges"/>
<path d="M138.5,407V419.5M166.5,276V419.5M193.5,361V416.9M221.5,368V401.9M249.5,321V379.9M304.5,256V332.2M360.5,255V332.2M415.5,320V379.9M443.5,259V401.9M470.5,359V415.9M498.5,270V419.5M526.5,392V419.5M581.5,411V419.5M184.5,406V419.5M480.5,406V419.4M258.5,357V372.1M406.5,360V372.1M178.5,414V419.5M176.5,415V419.5M492.5,415V419.5M497.5,417V419.5M516.5,416V419.5M517.5,416V419.5M332.5,20V300M331.5,283V320M333.5,291V318M165.5,390V419.5M359.5,277V330" stroke="#ff0000" stroke-width="1" fill="none"/></g>
<path d="M55.5,20.5h4.5M609.5,20.5h-4.5M55.5,48.5h2.5M609.5,48.5h-2.5M55.5,77.5h4.5M609.5,77.5h-4.5M55.5,105.5h2.5M609.5,105.5h-2.5M55.5,134.5h4.5M609.5,134.5h-4.5M55.5,162.5h2.5M609.5,162.5h-2.5M55.5,191.5h4.5M609.5,191.5h-4.5M55.5,219.5h2.5M609.5,219.5h-2.5M55.5,248.5h4.5M609.5,248.5h-4.5M55.5,276.5h2.5M609.5,276.5h-2.5M55.5,305.5h4.5M609.5,305.5h-4.5M55.5,333.5h2.5M609.5,333.5h-2.5M55.5,362.5h4.5M609.5,362.5h-4.5M55.5,390.5h2.5M609.5,390.5h-2.5M55.5,419.5h4.5M609.5,419.5h-4.5M55.5,419.5v-4.5M55.5,20.5v4.5M66.5,419.5v-2.5M66.5,20.5v2.5M77.5,419.5v-2.5M77.5,20.5v2.5M88.5,419.5v-2.5M88.5,20.5v2.5M99.5,419.5v-2.5M99.5,20.5v2.5M110.5,419.5v-4.5M110.5,20.5v4.5M121.5,419.5v-2.5M121.5,20.5v2.5M132.5,419.5v-2.5M132.5,20.5v2.5M143.5,419.5v-2.5M143.5,20.5v2.5M154.5,419.5v-2.5M154.5,20.5v2.5M165.5,419.5v-4.5M165.5,20.5v4.5M176.5,419.5v-2.5M176.5,20.5v2.5M188.5,419.5v-2.5M188.5,20.5v2.5M199.5,419.5v-2.5M199.5,20.5v2.5M210.5,419.5v-2.5M210.5,20.5v2.5M221.5,419.5v-4.5M221.5,20.5v4.5M232.5,419.5v-2.5M232.5,20.5v2.5M243.5,419.5v-2.5M243.5,20.5v2.5M254.5,419.5v-2.5M254.5,20.5v2.5M265.5,419.5v-2.5M265.5,20.5v2.5M276.5,419.5v-4.5M276.5,20.5v4.5M287.5,419.5v-2.5M287.5,20.5v2.5M298.5,419.5v-2.5M298.5,20.5v2.5M310.5,419.5v-2.5M310.5,20.5v2.5M321.5,419.5v-2.5M321.5,20.5v2.5M332.5,419.5v-4.5M332.5,20.5v4.5M343.5,419.5v-2.5M343.5,20.5v2.5M354.5,419.5v-2.5M354.5,20.5v2.5M365.5,419.5v-2.5M365.5,20.5v2.5M376.5,419.5v-2.5M376.5,20.5v2.5M387.5,419.5v-4.5M387.5,20.5v4.5M398.5,419.5v-2.5M398.5,20.5v2.5M409.5,419.5v-2.5M409.5,20.5v2.5M420.5,419.5v-2.5M420.5,20.5v2.5M432.5,419.5v-2.5M432.5,20.5v2.5M443.5,419.5v-4.5M443.5,20.5v4.5M454.5,419.5v-2.5M454.5,20.5v2.5M465.5,419.5v-2.5M465.5,20.5v2.5M476.5,419.5v-2.5M476.5,20.5v2.5M487.5,419.5v-2.5M487.5,20.5v2.5M498.5,419.5v-4.5M498.5,20.5v4.5M509.5,419.5v-2.5M509.5,20.5v2.5M520.5,419.5v-2.5M520.5,20.5v2.5M531.5,419.5v-2.5M531.5,20.5v2.5M542.5,419.5v-2.5M542.5,20.5v2.5M554.5,419.5v-4.5M554.5,20.5v4.5M565.5,419.5v-2.5M565.5,20.5v2.5M576.5,419.5v-2.5M576.5,20.5v2.5M587.5,419.5v-2.5M587.5,20.5v2.5M598.5,419.5v-2.5M598.5,20.5v2.5M609.5,419.5v-4.5M609.5,20.5v4.5" stroke="#000" stroke-width="1" fill="none"/>
<path d="M55.5,20.5H609.5V419.5H55.5Z" stroke="#000" stroke-width="1" fill="none"/>
<text x="42" y="25.0" text-anchor="end" font-size="16" class="lb">0</text>
<text x="43" y="82.0" text-anchor="end" font-size="16" class="lb">-10</text>
<text x="43" y="139.0" text-anchor="end" font-size="16" class="lb">-20</text>
<text x="43" y="196.0" text-anchor="end" font-size="16" class="lb">-30</text>
<text x="43" y="253.0" text-anchor="end" font-size="16" class="lb">-40</text>
<text x="43" y="310.0" text-anchor="end" font-size="16" class="lb">-50</text>
<text x="43" y="367.0" text-anchor="end" font-size="16" class="lb">-60</text>
<text x="43" y="424.0" text-anchor="end" font-size="16" class="lb">-70</text>
<text x="109.4" y="443.5" text-anchor="middle" font-size="16" class="lb">-2</text>
<text x="220.2" y="443.5" text-anchor="middle" font-size="16" class="lb">-1</text>
<text x="332.5" y="443.5" text-anchor="middle" font-size="16" class="lb">0</text>
<text x="443.3" y="443.5" text-anchor="middle" font-size="16" class="lb">1</text>
<text x="554.1" y="443.5" text-anchor="middle" font-size="16" class="lb">2</text>
<text x="330" y="471" text-anchor="middle" font-size="16" class="lb">MHz from nominal frequency of test wave</text>
<text x="72" y="51.5" font-size="30" font-weight="bold" stroke="#fff" stroke-width="0.3">atben-20111123-2</text>
<text x="591" y="51.5" text-anchor="end" font-size="29.7" font-weight="bold" stroke="#fff" stroke-width="0.3">2430.5 MHz</text>
<text x="72" y="96.3" font-size="24" font-weight="bold" stroke="#fff" stroke-width="0.5">+9.8 dB</text>
<text x="589.6" y="96.3" text-anchor="end" font-size="24" font-weight="bold" stroke="#fff" stroke-width="0.15">-0.7 ppm</text>
<rect x="221" y="21" width="23" height="56" fill="#00c000"/>
</svg></body></html>
